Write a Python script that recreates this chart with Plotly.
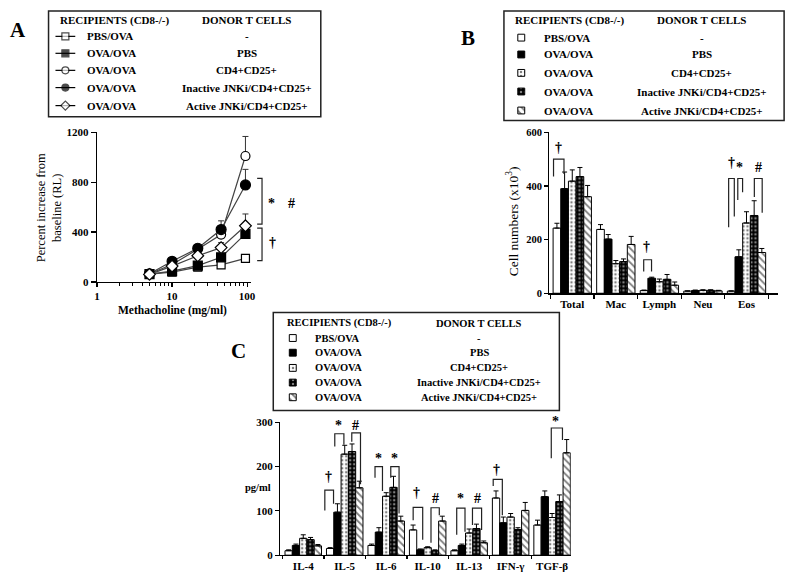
import math
import plotly.graph_objects as go

W, H = 800, 583

# ---------------- data ----------------
recipients = ["PBS/OVA", "OVA/OVA", "OVA/OVA", "OVA/OVA", "OVA/OVA"]
donors = ["-", "PBS", "CD4+CD25+", "Inactive JNKi/CD4+CD25+", "Active JNKi/CD4+CD25+"]

# Panel A: airway resistance (percent increase from baseline RL)
dose = [5, 10, 22, 45, 95]
rl_pbs_ova = [62, 78, 118, 137, 189]
rl_pbs_ova_err = [5, 8, 10, 12, 20]
rl_ova_pbs = [62, 86, 131, 197, 385]
rl_ova_pbs_err = [6, 10, 12, 30, 40]
rl_cd4 = [65, 140, 262, 380, 1010]
rl_cd4_err = [6, 15, 20, 60, 157]
rl_inactive = [65, 165, 270, 420, 778]
rl_inactive_err = [6, 15, 20, 70, 125]
rl_active = [60, 127, 210, 275, 450]
rl_active_err = [5, 10, 20, 40, 95]

# Panel B: BAL cell numbers (x10^3)
bal_cats = ["Total", "Mac", "Lymph", "Neu", "Eos"]
bal_pbs_ova = [243, 238, 10, 8, 8]
bal_pbs_ova_err = [18, 18, 2, 1, 1]
bal_ova_pbs = [390, 202, 56, 10, 136]
bal_ova_pbs_err = [62, 17, 4, 2, 26]
bal_cd4 = [418, 110, 43, 11, 262]
bal_cd4_err = [42, 12, 10, 2, 42]
bal_inactive = [435, 118, 52, 11, 290]
bal_inactive_err = [34, 10, 18, 2, 55]
bal_active = [360, 182, 30, 9, 152]
bal_active_err = [42, 30, 12, 2, 15]

# Panel C: cytokines (pg/ml)
cyt_cats = ["IL-4", "IL-5", "IL-6", "IL-10", "IL-13", "IFN-γ", "TGF-β"]
cyt_pbs_ova = [10, 15, 22, 57, 10, 129, 68]
cyt_pbs_ova_err = [2, 2, 3, 11, 2, 16, 11]
cyt_ova_pbs = [22, 97, 52, 12, 22, 73, 132]
cyt_ova_pbs_err = [3, 19, 10, 2, 3, 13, 13]
cyt_cd4 = [38, 228, 133, 17, 50, 86, 85]
cyt_cd4_err = [8, 20, 8, 2, 9, 8, 9]
cyt_inactive = [35, 234, 153, 10, 60, 58, 121]
cyt_inactive_err = [5, 17, 25, 2, 10, 4, 15]
cyt_active = [21, 152, 77, 77, 28, 101, 231]
cyt_active_err = [3, 15, 11, 11, 4, 18, 30]

# significance brackets (data units: category offset x, values y)
# (x_left, x_right, y_top, y_left_bottom, y_right_bottom)
bal_brackets = [(-0.43, -0.19, 500, 435, 445), (1.64, 1.82, 125, 81, 81),
                (3.59, 3.72, 428, 246, 286), (3.80, 3.91, 428, 348, 377),
                (4.18, 4.36, 428, 359, 300)]
bal_sig = [("†", -0.31, 542), ("†", 1.70, 174), ("†", 3.66, 487),
           ("*", 3.85, 469), ("#", 4.27, 469)]
cyt_brackets = [(0.52, 0.73, 147, 101, 116), (0.76, 0.98, 274, 245, 249),
                (1.17, 1.38, 276, 256, 160), (1.73, 1.91, 200, 175, 145),
                (2.11, 2.31, 200, 175, 94), (2.65, 2.88, 108, 79, 35),
                (3.08, 3.28, 107, 28, 90), (3.70, 3.90, 106, 46, 53),
                (4.08, 4.30, 106, 68, 57), (4.58, 4.80, 171, 156, 90),
                (5.98, 6.25, 287, 219, 260)]
cyt_sig = [("†", 0.61, 178), ("*", 0.84, 293), ("#", 1.27, 293),
           ("*", 1.81, 219), ("*", 2.19, 219), ("†", 2.73, 141),
           ("#", 3.20, 127), ("*", 3.80, 127), ("#", 4.20, 127),
           ("†", 4.65, 193), ("*", 6.09, 302)]
# panel A brackets (dose, value)
rl_brackets = [(136, 158, 831, 464), (136, 158, 432, 171)]
rl_sig = [("*", 210, 629), ("#", 394, 629), ("†", 218, 314)]

# ---------------- layout geometry (pixels) ----------------
A_X, A_Y = (95, 250), (129, 281.7)
A_XR, A_YR = (0, 2.045), (0, 1200)
B_X, B_Y = (552, 783), (129, 293.3)
B_XR, B_YR = (-0.523, 4.727), (0, 600)
C_X, C_Y = (280, 573.5), (425, 560.7)
C_XR, C_YR = (-0.556, 6.45), (0, 300)


def xd(x0, x1):
    return [x0 / W, x1 / W]


def yd(top, bottom):
    return [1 - bottom / H, 1 - top / H]


def conv(px_rng, py_rng, xr, yr, log=False):
    def f(x, y):
        xv = math.log10(x) if log else x
        fx = (xv - xr[0]) / (xr[1] - xr[0])
        fy = (y - yr[0]) / (yr[1] - yr[0])
        px = px_rng[0] + fx * (px_rng[1] - px_rng[0])
        py = py_rng[1] - fy * (py_rng[1] - py_rng[0])
        return px / W, 1 - py / H
    return f


a2p = conv(A_X, A_Y, A_XR, A_YR, log=True)
b2p = conv(B_X, B_Y, B_XR, B_YR)
c2p = conv(C_X, C_Y, C_XR, C_YR)

FONT = "Liberation Serif"
fig = go.Figure()

# ---------------- Panel A ----------------
symbols = ["square", "square", "circle", "circle", "diamond"]
fills = ["white", "black", "white", "black", "white"]
msizes = [8, 9, 9, 10, 9]
rl_series = [(rl_pbs_ova, rl_pbs_ova_err), (rl_ova_pbs, rl_ova_pbs_err),
             (rl_cd4, rl_cd4_err), (rl_inactive, rl_inactive_err),
             (rl_active, rl_active_err)]
for i, (vals, errs) in enumerate(rl_series):
    fig.add_trace(go.Scatter(
        x=dose, y=vals, mode="lines+markers", xaxis="x", yaxis="y",
        line=dict(color="#444", width=1.2),
        marker=dict(symbol=symbols[i], size=msizes[i], color=fills[i],
                    line=dict(color="black", width=1.2)),
        error_y=dict(type="data", array=errs, arrayminus=[0] * len(errs),
                     symmetric=False, color="#333", thickness=1, width=3),
        showlegend=False, cliponaxis=False))

# ---------------- bar styles ----------------
def bar_marker(i):
    base = dict(line=dict(color="black", width=1))
    if i == 0:
        base.update(color="white")
    elif i == 1:
        base.update(color="black")
    elif i == 2:
        base.update(color="white", pattern=dict(shape=".", fgcolor="black", bgcolor="white",
                                               size=4, solidity=0.3))
    elif i == 3:
        base.update(color="black", pattern=dict(shape=".", fgcolor="white", bgcolor="black",
                                               size=4, solidity=0.3))
    else:
        base.update(color="white", pattern=dict(shape="\\", fgcolor="black", bgcolor="white",
                                               size=5, solidity=0.35))
    return base


bal_series = [(bal_pbs_ova, bal_pbs_ova_err), (bal_ova_pbs, bal_ova_pbs_err),
              (bal_cd4, bal_cd4_err), (bal_inactive, bal_inactive_err),
              (bal_active, bal_active_err)]
for i, (vals, errs) in enumerate(bal_series):
    fig.add_trace(go.Bar(
        x=bal_cats, y=vals, xaxis="x2", yaxis="y2", marker=bar_marker(i),
        error_y=dict(type="data", array=errs, arrayminus=[0] * len(errs),
                     symmetric=False, color="black", thickness=1, width=2.5),
        showlegend=False))

cyt_series = [(cyt_pbs_ova, cyt_pbs_ova_err), (cyt_ova_pbs, cyt_ova_pbs_err),
              (cyt_cd4, cyt_cd4_err), (cyt_inactive, cyt_inactive_err),
              (cyt_active, cyt_active_err)]
for i, (vals, errs) in enumerate(cyt_series):
    fig.add_trace(go.Bar(
        x=cyt_cats, y=vals, xaxis="x3", yaxis="y3", marker=bar_marker(i),
        error_y=dict(type="data", array=errs, arrayminus=[0] * len(errs),
                     symmetric=False, color="black", thickness=1, width=2.5),
        showlegend=False))

# ---------------- legends (canvas axis in pixel units) ----------------
legA_rows = [31, 48.3, 65.7, 83.3, 101.7]
legB_rows = [32.3, 49.5, 68.3, 87.3, 106.7]
legC_rows = [339, 354, 369.5, 384.5, 399.5]

for i, ry in enumerate(legA_rows):
    fig.add_trace(go.Scatter(
        x=[53, 63, 73], y=[ry, ry, ry], mode="lines+markers", xaxis="x4", yaxis="y4",
        line=dict(color="black", width=1.2),
        marker=dict(symbol=symbols[i], size=[0, 7, 0], color=fills[i],
                    line=dict(color="black", width=1.2)),
        showlegend=False, hoverinfo="skip"))

for rows, cx in ((legB_rows, 523.5), (legC_rows, 292.7)):
    for i, ry in enumerate(rows):
        fig.add_trace(go.Bar(
            x=[cx], y=[7], base=[ry - 3.5], width=[7], offset=[-3.5],
            xaxis="x4", yaxis="y4", marker=bar_marker(i),
            showlegend=False, hoverinfo="skip"))

shapes = []
annotations = []


def ptxt(text, px, py, size=11, xanchor="center", bold=True, angle=0):
    annotations.append(dict(
        text=text, x=px / W, y=1 - py / H, xref="paper", yref="paper",
        xanchor=xanchor, yanchor="middle", showarrow=False, textangle=angle,
        font=dict(family=FONT, size=size, color="black",
                  weight="bold" if bold else "normal")))


def box(x0, y0, x1, y1):
    shapes.append(dict(type="rect", xref="paper", yref="paper",
                       x0=x0 / W, x1=x1 / W, y0=1 - y1 / H, y1=1 - y0 / H,
                       line=dict(color="#222", width=1.5), fillcolor="rgba(0,0,0,0)"))


def legend_block(bx, rows, hdr_y, rec_x, rec_hdr_x, don_x, size):
    box(*bx)
    ptxt("RECIPIENTS (CD8-/-)", rec_hdr_x, hdr_y, size)
    ptxt("DONOR T CELLS", don_x, hdr_y, size)
    for r, d, ry in zip(recipients, donors, rows):
        ptxt(r, rec_x, ry, size, xanchor="left")
        ptxt(d, don_x, ry, size)


legend_block((46, 5, 321, 113), legA_rows, 14.3, 82.7, 113, 246, 11)
legend_block((506, 5, 789, 117), legB_rows, 14.7, 544, 572, 706, 11)
legend_block((273, 313, 562, 413), legC_rows, 324, 312.7, 340, 481, 10.5)

# panel labels
ptxt("A", 15, 25, 21)
ptxt("B", 470, 33, 21)
ptxt("C", 238, 352, 21)

# axis titles
ptxt("Percent increase from<br>baseline (RL)", 46, 206, 12.5, bold=False, angle=-90)
ptxt("Methacholine (mg/ml)", 171, 311, 11.5)
ptxt("Cell numbers (x10<sup>3</sup>)", 515, 220, 13.5, bold=False, angle=-90)
ptxt("pg/ml", 258, 492, 10.5)


def path_shape(pts):
    d = "M " + " L ".join(f"{x:.5f},{y:.5f}" for x, y in pts)
    shapes.append(dict(type="path", path=d, xref="paper", yref="paper",
                       line=dict(color="#222", width=1.2)))


def add_brackets(c2, brs, sigs, sigsize=14):
    for xl, xr, yt, ybl, ybr in brs:
        path_shape([c2(xl, ybl), c2(xl, yt), c2(xr, yt), c2(xr, ybr)])
    for s, x, y in sigs:
        px, py = c2(x, y)
        annotations.append(dict(text=s, x=px, y=py, xref="paper", yref="paper",
                                xanchor="center", yanchor="middle", showarrow=False,
                                font=dict(family=FONT, size=sigsize, color="black",
                                          weight="bold")))


add_brackets(b2p, bal_brackets, bal_sig)
add_brackets(c2p, cyt_brackets, cyt_sig)
for xt, xs, yt, yb in rl_brackets:
    path_shape([a2p(xt, yt), a2p(xs, yt), a2p(xs, yb), a2p(xt, yb)])
for s, x, y in rl_sig:
    px, py = a2p(x, y)
    annotations.append(dict(text=s, x=px, y=py, xref="paper", yref="paper",
                            xanchor="center", yanchor="middle", showarrow=False,
                            font=dict(family=FONT, size=14, color="black", weight="bold")))

tickfont = dict(family=FONT, size=11, color="black", weight="bold")
axis_common = dict(showline=True, linecolor="black", linewidth=1.3, ticks="outside",
                   tickcolor="black", tickwidth=1.2, showgrid=False, zeroline=False,
                   tickfont=tickfont, fixedrange=True)

fig.update_layout(
    width=W, height=H, autosize=False,
    margin=dict(l=0, r=0, t=0, b=0, pad=0),
    paper_bgcolor="white", plot_bgcolor="rgba(0,0,0,0)",
    font=dict(family=FONT, color="black"),
    barmode="group", bargap=0.12, bargroupgap=0,
    showlegend=False,
    xaxis=dict(type="log", domain=xd(*A_X), range=list(A_XR), anchor="y",
               tickvals=[1, 10, 100], ticktext=["1", "10", "100"], ticklen=4,
               minor=dict(tickvals=[2, 3, 4, 5, 6, 7, 8, 9, 20, 30, 40, 50, 60, 70, 80, 90],
                          ticks="outside", ticklen=3, tickcolor="black", showgrid=False),
               **axis_common),
    yaxis=dict(domain=yd(*A_Y), range=list(A_YR), anchor="x",
               tickvals=[0, 400, 800, 1200], ticklen=5, **axis_common),
    xaxis2=dict(type="category", domain=xd(*B_X), range=list(B_XR), anchor="y2",
                tickson="boundaries", ticklen=4, **axis_common),
    yaxis2=dict(domain=yd(*B_Y), range=list(B_YR), anchor="x2",
                tickvals=[0, 200, 400, 600], ticklen=4,
                **{**axis_common, "tickfont": dict(family=FONT, size=10.5, color="black", weight="bold")}),
    xaxis3=dict(type="category", domain=xd(*C_X), range=list(C_XR), anchor="y3",
                tickson="boundaries", ticklen=3, **axis_common),
    yaxis3=dict(domain=yd(*C_Y), range=list(C_YR), anchor="x3",
                tickvals=[0, 100, 200, 300], ticklen=4, **axis_common),
    xaxis4=dict(domain=[0, 1], range=[0, W], visible=False, fixedrange=True, anchor="y4"),
    yaxis4=dict(domain=[0, 1], range=[H, 0], visible=False, fixedrange=True, anchor="x4"),
    shapes=shapes, annotations=annotations,
)

fig.write_html("out.html", config={"displayModeBar": False, "staticPlot": True},
               post_script="document.body.style.margin='0px';document.body.style.overflow='hidden';")
